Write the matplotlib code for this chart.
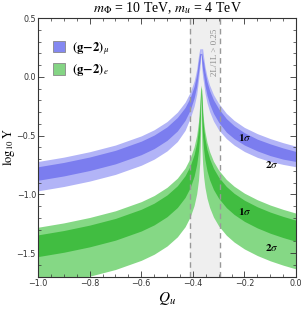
import matplotlib
matplotlib.use("Agg")
import matplotlib.pyplot as plt
from matplotlib.ticker import MultipleLocator
from matplotlib.patches import Patch

plt.rcParams["mathtext.fontset"] = "stix"
plt.rcParams["font.family"] = ["DejaVu Sans"]

# Q_u grid (left branch, pole at -0.368, right branch)
q = [-1.0, -0.9, -0.8, -0.7, -0.6, -0.55, -0.5, -0.46, -0.43, -0.41, -0.395, -0.385,
     -0.378, -0.373, -0.370, -0.368,
     -0.367, -0.365, -0.362, -0.358, -0.353, -0.345, -0.335, -0.32, -0.3, -0.27,
     -0.24, -0.2, -0.15, -0.1, -0.05, 0.0]

# (g-2)_mu band edges, log10 Y
mu_2s_hi = [-0.72, -0.683, -0.637, -0.58, -0.502, -0.45, -0.38, -0.30, -0.215, -0.13, -0.035, 0.065,
            0.18, 0.24, 0.24, 0.24,
            0.24, 0.24, 0.24, 0.17, 0.09, 0.005, -0.07, -0.15, -0.225, -0.31,
            -0.37, -0.43, -0.483, -0.525, -0.56, -0.59]
mu_1s_hi = [-0.765, -0.728, -0.682, -0.625, -0.547, -0.495, -0.425, -0.345, -0.26, -0.175, -0.08, 0.02,
            0.135, 0.2, 0.2, 0.2,
            0.2, 0.2, 0.16, 0.12, 0.045, -0.04, -0.115, -0.195, -0.27, -0.355,
            -0.415, -0.475, -0.53, -0.57, -0.605, -0.635]
mu_1s_lo = [-0.88, -0.843, -0.797, -0.74, -0.662, -0.61, -0.54, -0.46, -0.37, -0.28, -0.18, -0.08,
            0.04, 0.12, 0.18, 0.2,
            0.18, 0.12, 0.06, 0.01, -0.07, -0.155, -0.23, -0.31, -0.385, -0.47,
            -0.525, -0.58, -0.63, -0.67, -0.70, -0.72]
mu_2s_lo = [-0.97, -0.933, -0.887, -0.83, -0.752, -0.70, -0.63, -0.55, -0.455, -0.35, -0.25, -0.15,
            -0.03, 0.07, 0.15, 0.24,
            0.15, 0.07, 0.0, -0.055, -0.135, -0.22, -0.295, -0.375, -0.45, -0.525,
            -0.58, -0.635, -0.685, -0.72, -0.745, -0.765]

# (g-2)_e band edges, log10 Y
e_2s_hi = [-1.28, -1.243, -1.197, -1.14, -1.062, -1.01, -0.94, -0.862, -0.776, -0.69, -0.595, -0.495,
           -0.38, -0.23, -0.10, -0.07,
           -0.09, -0.116, -0.266, -0.377, -0.465, -0.558, -0.636, -0.718, -0.793, -0.873,
           -0.931, -0.99, -1.046, -1.091, -1.128, -1.16]
e_1s_hi = [-1.345, -1.308, -1.262, -1.205, -1.127, -1.075, -1.005, -0.927, -0.841, -0.756, -0.66, -0.56,
           -0.445, -0.295, -0.15, -0.09,
           -0.11, -0.176, -0.326, -0.437, -0.525, -0.618, -0.696, -0.778, -0.853, -0.933,
           -0.991, -1.05, -1.106, -1.151, -1.188, -1.22]
e_1s_lo = [-1.53, -1.493, -1.447, -1.39, -1.312, -1.26, -1.19, -1.112, -1.026, -0.941, -0.845, -0.745,
           -0.63, -0.48, -0.28, -0.09,
           -0.2, -0.356, -0.506, -0.617, -0.705, -0.798, -0.876, -0.958, -1.033, -1.113,
           -1.171, -1.23, -1.286, -1.331, -1.368, -1.40]
e_2s_lo = [-1.78, -1.743, -1.697, -1.64, -1.562, -1.51, -1.44, -1.362, -1.276, -1.19, -1.095, -0.995,
           -0.88, -0.73, -0.50, -0.07,
           -0.35, -0.591, -0.741, -0.852, -0.94, -1.033, -1.111, -1.193, -1.268, -1.348,
           -1.406, -1.465, -1.521, -1.566, -1.603, -1.635]

excluded = (-0.41, -0.295)   # 2L/1L > 0.25 region

fig = plt.figure(figsize=(3.03, 3.09), dpi=100)
ax = fig.add_axes([0.1254, 0.105, 0.8516, 0.836])

ax.axvspan(*excluded, color="#efefef", lw=0, zorder=0)

ax.fill_between(q, mu_2s_lo, mu_2s_hi, color="#b2b4f7", lw=0, zorder=1)
ax.fill_between(q, mu_1s_lo, mu_1s_hi, color="#7b7def", lw=0, zorder=2)
ax.fill_between(q, e_2s_lo, e_2s_hi, color="#85d885", lw=0, zorder=1)
ax.fill_between(q, e_1s_lo, e_1s_hi, color="#41bd41", lw=0, zorder=2)

for xv in excluded:
    ax.axvline(xv, color="#999999", lw=1.0, ls=(0, (4, 3)), zorder=3)

ax.text(-0.313, 0.41, "2L/1L > 0.25", rotation=90, ha="center", va="top",
        fontsize=6.5, color="#8c8c8c", family="Liberation Serif", zorder=4)

lab = dict(fontsize=8, ha="center", va="center", zorder=4)
ax.text(-0.2, -0.52, r"$\mathbf{1}\sigma$", **lab)
ax.text(-0.095, -0.745, r"$\mathbf{2}\sigma$", **lab)
ax.text(-0.2, -1.15, r"$\mathbf{1}\sigma$", **lab)
ax.text(-0.095, -1.45, r"$\mathbf{2}\sigma$", **lab)

handles = [Patch(facecolor="#8488f1", edgecolor="#888888", lw=0.6),
           Patch(facecolor="#84d484", edgecolor="#888888", lw=0.6)]
ax.legend(handles, [r"$\mathbf{(g\!-\!2)}_{\mu}$", r"$\mathbf{(g\!-\!2)}_{e}$"],
          loc="upper left", bbox_to_anchor=(0.04, 0.935), frameon=False,
          fontsize=9, handlelength=0.9, handleheight=1.0, handletextpad=0.6,
          labelspacing=0.45, borderaxespad=0)

ax.set_xlim(-1.0, 0.0)
ax.set_ylim(-1.7, 0.5)
ax.xaxis.set_major_locator(MultipleLocator(0.2))
ax.xaxis.set_minor_locator(MultipleLocator(0.05))
ax.yaxis.set_major_locator(MultipleLocator(0.5))
ax.yaxis.set_minor_locator(MultipleLocator(0.1))
ax.tick_params(which="both", direction="in", top=True, right=True,
               labelsize=5.8, color="#333333", labelcolor="#333333", pad=1.5)
ax.tick_params(which="major", length=4, width=0.6)
ax.tick_params(which="minor", length=2, width=0.5)
ax.xaxis.set_major_formatter(plt.FuncFormatter(lambda v, p: f"{v:.1f}".replace("-", "\u2212")))
ax.yaxis.set_major_formatter(plt.FuncFormatter(lambda v, p: f"{v:.1f}".replace("-", "\u2212")))
for s in ax.spines.values():
    s.set_linewidth(0.8)
    s.set_color("#333333")

ax.set_xlabel(r"$Q_u$", fontsize=11, labelpad=2)
ax.set_ylabel(r"$\log_{10}\mathrm{Y}$", fontsize=9)
ax.yaxis.set_label_coords(-0.083, 0.5)
ax.set_title(r"$m_\Phi$ = 10 TeV, $m_u$ = 4 TeV", fontsize=10,
             family="Liberation Serif", pad=4)

fig.savefig("out.png", dpi=100)
